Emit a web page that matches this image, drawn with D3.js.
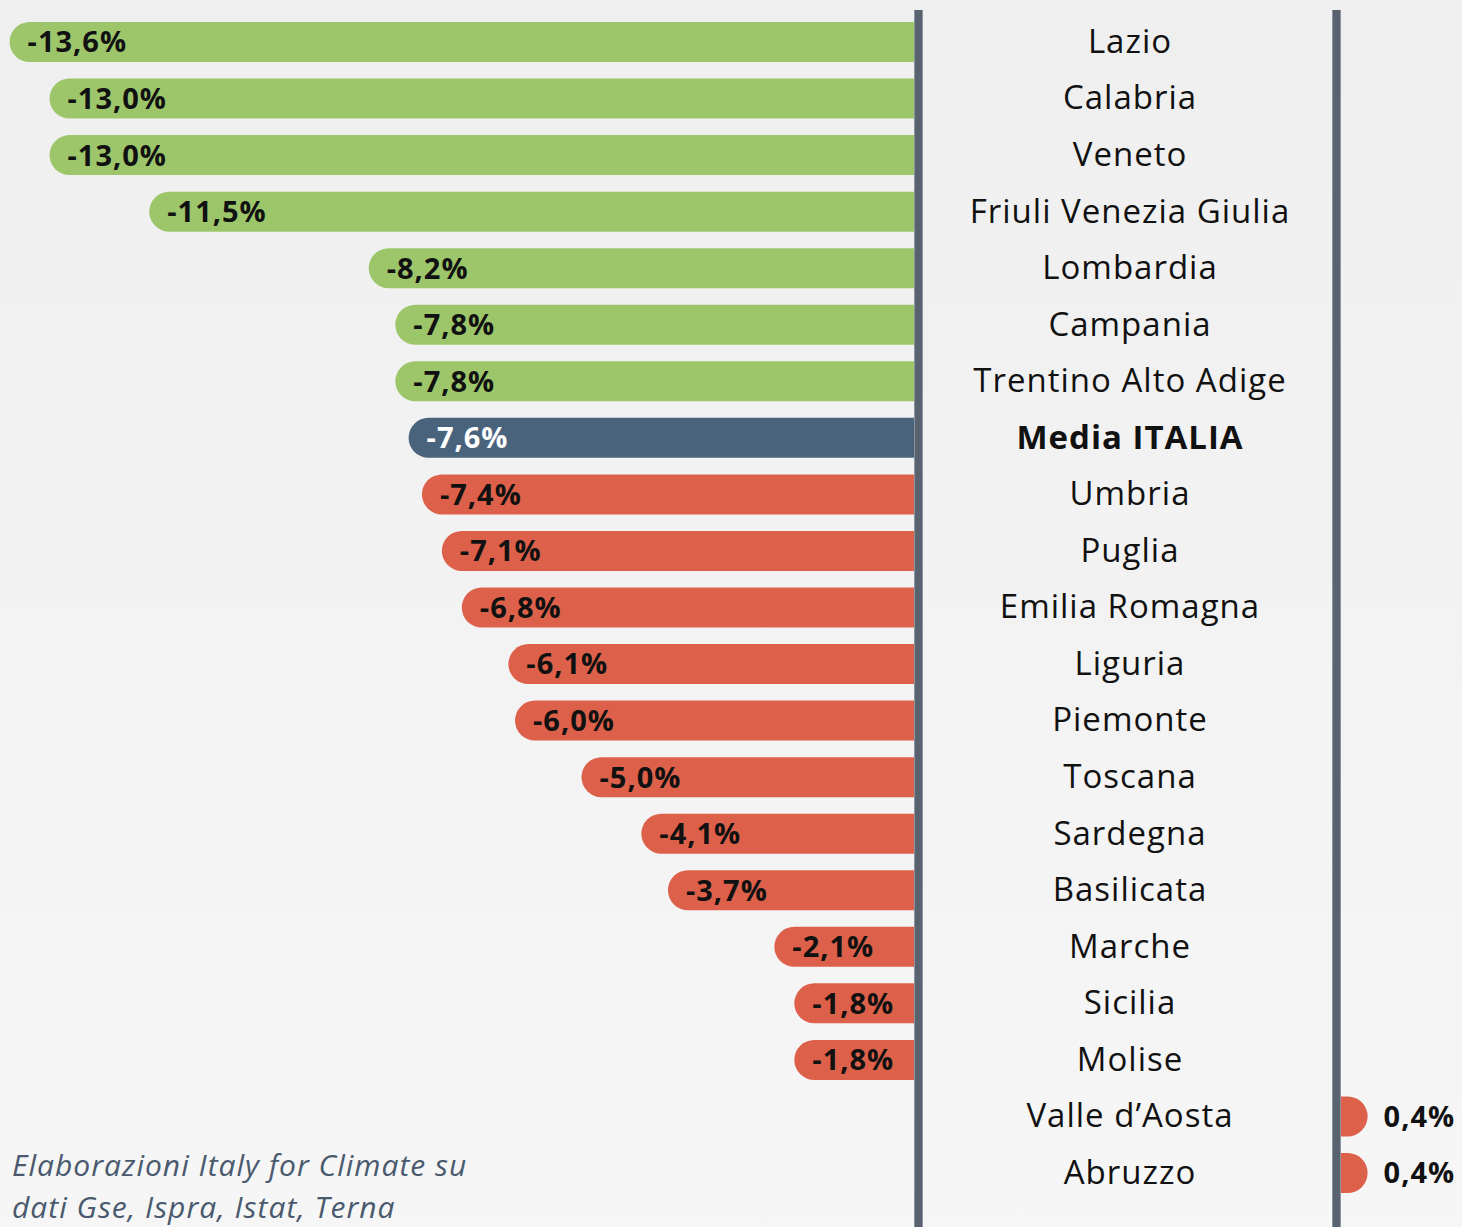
<!DOCTYPE html>
<html>
<head>
<meta charset="utf-8">
<script src="https://cdn.jsdelivr.net/npm/d3@7"></script>
<style>
  html, body { margin: 0; padding: 0; }
  body { width: 1462px; height: 1227px; overflow: hidden; }
  svg { display: block; font-family: "Open Sans", "Noto Sans", sans-serif; }
</style>
</head>
<body>
<svg id="chart" width="1462" height="1227"></svg>
<script>
// Regions, in display order (top to bottom)
var regions = [
    'Lazio', 'Calabria', 'Veneto', 'Friuli Venezia Giulia', 'Lombardia',
    'Campania', 'Trentino Alto Adige', 'Media ITALIA', 'Umbria', 'Puglia',
    'Emilia Romagna', 'Liguria', 'Piemonte', 'Toscana', 'Sardegna',
    'Basilicata', 'Marche', 'Sicilia', 'Molise', 'Valle d\u2019Aosta', 'Abruzzo'
];

// Change in % for each region
var changes = [
    -13.6, -13.0, -13.0, -11.5, -8.2,
    -7.8, -7.8, -7.6, -7.4, -7.1,
    -6.8, -6.1, -6.0, -5.0, -4.1,
    -3.7, -2.1, -1.8, -1.8, 0.4, 0.4
];

// Group of each bar: better than average, average, worse than average
var groups = [
    'better', 'better', 'better', 'better', 'better',
    'better', 'better', 'average', 'worse', 'worse',
    'worse', 'worse', 'worse', 'worse', 'worse',
    'worse', 'worse', 'worse', 'worse', 'worse', 'worse'
];

var sourceLines = ['Elaborazioni Italy for Climate su', 'dati Gse, Ispra, Istat, Terna'];

var colors = { better: '#9dc66b', average: '#4a637d', worse: '#dd614a' };

var data = regions.map(function(r, i) {
    return { region: r, value: changes[i], group: groups[i] };
});

var svg = d3.select('#chart');
var width = 1462, height = 1227;

// Background gradient
var defs = svg.append('defs');
var grad = defs.append('linearGradient')
    .attr('id', 'bg').attr('x1', 0).attr('y1', 0).attr('x2', 0).attr('y2', 1);
grad.append('stop').attr('offset', '0%').attr('stop-color', '#efefef');
grad.append('stop').attr('offset', '100%').attr('stop-color', '#f6f6f6');
svg.append('rect').attr('width', width).attr('height', height).attr('fill', 'url(#bg)');

// Negative bars extend left from the left axis, positive ones right from the right axis
var leftZero = 914, rightZero = 1341;
var pxPerPct = 66.5;

var xNeg = d3.scaleLinear().domain([-14, 0]).range([leftZero - 14 * pxPerPct, leftZero]);
var xPos = d3.scaleLinear().domain([0, 1]).range([rightZero, rightZero + pxPerPct]);

var y = d3.scalePoint().domain(regions).range([42, 1173]);
var barH = 40;

/**
 * Bar with rounded outer end and flat inner end.
 */
function barPath(d) {
    var cy = y(d.region);
    var top = cy - barH / 2, bot = cy + barH / 2;
    var r = barH / 2;
    if (d.value < 0) {
        var x0 = xNeg(d.value), x1 = leftZero;
        var rr = Math.min(r, x1 - x0);
        return 'M' + x1 + ',' + top + 'L' + (x0 + rr) + ',' + top +
            'A' + rr + ',' + r + ' 0 0 0 ' + (x0 + rr) + ',' + bot +
            'L' + x1 + ',' + bot + 'Z';
    }
    var a = rightZero, b = xPos(d.value);
    var rw = Math.min(r, b - a);
    return 'M' + a + ',' + top + 'L' + (b - rw) + ',' + top +
        'A' + rw + ',' + r + ' 0 0 1 ' + (b - rw) + ',' + bot +
        'L' + a + ',' + bot + 'Z';
}

function fmt(v) {
    return (v < 0 ? '-' : '') + d3.format('.1f')(Math.abs(v)).replace('.', ',') + '%';
}

var rows = svg.append('g').selectAll('g.row')
    .data(data)
    .enter().append('g')
        .attr('class', 'row');

rows.append('path')
    .attr('d', barPath)
    .attr('fill', function(d) { return colors[d.group]; });

// Value labels
rows.append('text')
    .attr('x', function(d) { return d.value < 0 ? xNeg(d.value) + 18 : xPos(d.value) + 16; })
    .attr('y', function(d) { return y(d.region); })
    .attr('dy', '0.36em')
    .attr('font-size', 29)
    .attr('font-weight', 700)
    .attr('letter-spacing', 1)
    .attr('fill', function(d) { return d.group === 'average' ? '#ffffff' : '#111111'; })
    .text(function(d) { return fmt(d.value); });

// Region labels, centered between the two axis lines
rows.append('text')
    .attr('x', 1130)
    .attr('y', function(d) { return y(d.region) - 1; })
    .attr('dy', '0.36em')
    .attr('text-anchor', 'middle')
    .attr('font-size', 33)
    .attr('letter-spacing', 1)
    .attr('font-weight', function(d) { return d.group === 'average' ? 700 : 400; })
    .attr('fill', '#111111')
    .text(function(d) { return d.region; });

// Axis lines
[leftZero + 4.5, rightZero - 4.5].forEach(function(x) {
    svg.append('line')
        .attr('x1', x).attr('x2', x)
        .attr('y1', 10).attr('y2', height)
        .attr('stroke', '#8d96a0').attr('stroke-width', 9);
    svg.append('line')
        .attr('x1', x).attr('x2', x)
        .attr('y1', 10).attr('y2', height)
        .attr('stroke', '#58636f').attr('stroke-width', 7);
});

// Source note
svg.append('g').selectAll('text')
    .data(sourceLines)
    .enter().append('text')
        .attr('x', 12)
        .attr('y', function(d, i) { return 1176 + i * 42; })
        .attr('font-size', 30)
        .attr('font-style', 'italic')
        .attr('font-weight', 400)
        .attr('letter-spacing', 1)
        .attr('fill', '#4a5a6e')
        .text(function(d) { return d; });
</script>
</body>
</html>
